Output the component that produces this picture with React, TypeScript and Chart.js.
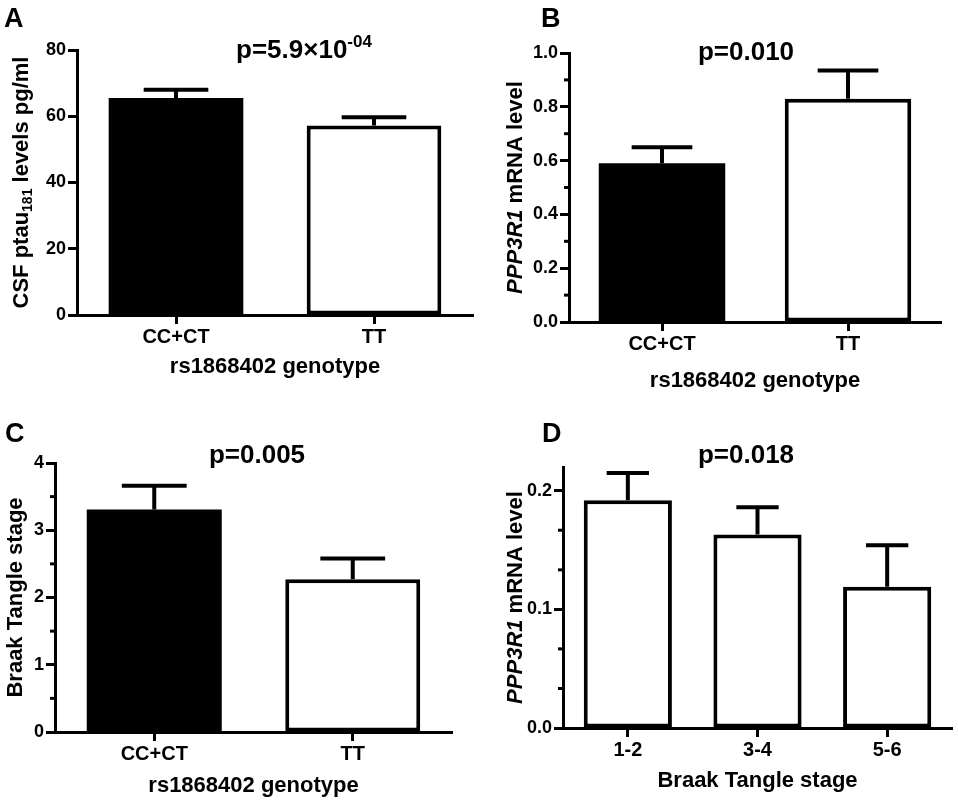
import React, { useEffect, useRef } from 'react';
import { Chart, registerables } from 'chart.js';

Chart.register(...registerables);

// values (mean and SEM, error bars drawn upward only)
const genotypes = ['CC+CT', 'TT'];
const braakStages = ['1-2', '3-4', '5-6'];

const ptauMean = [65.5, 57.2];
const ptauSem = [2.5, 2.5];

const mrnaGenoMean = [0.59, 0.83];
const mrnaGenoSem = [0.06, 0.105];

const braakMean = [3.31, 2.27];
const braakSem = [0.35, 0.31];

const mrnaStageMean = [0.192, 0.163, 0.119];
const mrnaStageSem = [0.023, 0.023, 0.035];

// axis ticks (major carry labels, minor are short marks only)
const ptauTicks = [0, 20, 40, 60, 80];
const mrnaGenoTicks = [0, 0.2, 0.4, 0.6, 0.8, 1.0];
const mrnaGenoMinor = [0.1, 0.3, 0.5, 0.7, 0.9];
const braakTicks = [0, 1, 2, 3, 4];
const braakMinor = [0.5, 1.5, 2.5, 3.5];
const mrnaStageTicks = [0, 0.1, 0.2];
const mrnaStageMinor = [0.0333, 0.0667, 0.1333, 0.1667];

const FONT = '"Liberation Sans", Arial, Helvetica, sans-serif';
const W = 479;
const H = 400;

interface Seg {
  text: string;
  italic?: boolean;
  shift?: 'sub' | 'sup';
}

interface PanelSpec {
  letter: string;
  letterX: number;
  letterY: number;
  title: Seg[];
  titleX: number;
  titleY: number;
  yTitle: Seg[];
  yTitleX: number;
  xTitle: string;
  xTitleY: number;
  labels: string[];
  mean: number[];
  sem: number[];
  fills: string[];
  yMax: number;
  ticks: number[];
  minor: number[];
  decimals: number;
  area: { left: number; right: number; top: number; bottom: number };
}

const segFont = (s: Seg, size: number) => {
  const px = s.shift ? Math.round(size * 0.64) : size;
  return `${s.italic ? 'italic ' : ''}bold ${px}px ${FONT}`;
};

// draws mixed-style text on one baseline, centred on x
function drawRich(ctx: CanvasRenderingContext2D, segs: Seg[], x: number, y: number, size: number) {
  let total = 0;
  const widths = segs.map((s) => {
    ctx.font = segFont(s, size);
    const w = ctx.measureText(s.text).width;
    total += w;
    return w;
  });
  let cx = x - total / 2;
  ctx.textAlign = 'left';
  ctx.textBaseline = 'alphabetic';
  segs.forEach((s, i) => {
    ctx.font = segFont(s, size);
    let dy = 0;
    if (s.shift === 'sub') dy = size * 0.2;
    if (s.shift === 'sup') dy = -size * 0.42;
    ctx.fillText(s.text, cx, y + dy);
    cx += widths[i];
  });
}

const panels: PanelSpec[] = [
  {
    letter: 'A', letterX: 4, letterY: 27,
    title: [{ text: 'p=5.9×10' }, { text: '-04', shift: 'sup' }], titleX: 304, titleY: 58,
    yTitle: [{ text: 'CSF ptau' }, { text: '181', shift: 'sub' }, { text: ' levels pg/ml' }], yTitleX: 28,
    xTitle: 'rs1868402 genotype', xTitleY: 373,
    labels: genotypes, mean: ptauMean, sem: ptauSem, fills: ['#000000', '#ffffff'],
    yMax: 80, ticks: ptauTicks, minor: [], decimals: 0,
    area: { left: 77, right: 473, top: 50, bottom: 315 },
  },
  {
    letter: 'B', letterX: 62, letterY: 27,
    title: [{ text: 'p=0.010' }], titleX: 267, titleY: 60,
    yTitle: [{ text: 'PPP3R1', italic: true }, { text: ' mRNA level' }], yTitleX: 43,
    xTitle: 'rs1868402 genotype', xTitleY: 387,
    labels: genotypes, mean: mrnaGenoMean, sem: mrnaGenoSem, fills: ['#000000', '#ffffff'],
    yMax: 1.0, ticks: mrnaGenoTicks, minor: mrnaGenoMinor, decimals: 1,
    area: { left: 90, right: 462, top: 53, bottom: 322 },
  },
  {
    letter: 'C', letterX: 5, letterY: 42,
    title: [{ text: 'p=0.005' }], titleX: 257, titleY: 63,
    yTitle: [{ text: 'Braak Tangle stage' }], yTitleX: 22,
    xTitle: 'rs1868402 genotype', xTitleY: 392,
    labels: genotypes, mean: braakMean, sem: braakSem, fills: ['#000000', '#ffffff'],
    yMax: 4, ticks: braakTicks, minor: braakMinor, decimals: 0,
    area: { left: 55, right: 452, top: 63, bottom: 332 },
  },
  {
    letter: 'D', letterX: 63, letterY: 42,
    title: [{ text: 'p=0.018' }], titleX: 267, titleY: 63,
    yTitle: [{ text: 'PPP3R1', italic: true }, { text: ' mRNA level' }], yTitleX: 43,
    xTitle: 'Braak Tangle stage', xTitleY: 387,
    labels: braakStages, mean: mrnaStageMean, sem: mrnaStageSem, fills: ['#ffffff', '#ffffff', '#ffffff'],
    yMax: 0.22, ticks: mrnaStageTicks, minor: mrnaStageMinor, decimals: 1,
    area: { left: 84, right: 473, top: 67, bottom: 328 },
  },
];

const Panel: React.FC<{ spec: PanelSpec }> = ({ spec }) => {
  const canvasRef = useRef<HTMLCanvasElement | null>(null);

  useEffect(() => {
    if (!canvasRef.current) return;
    const a = spec.area;
    const tickFont = { family: FONT, weight: 'bold' as const };

    const decorations = {
      id: 'decorations',
      afterDatasetsDraw(chart: Chart) {
        const ctx = chart.ctx;
        const y = chart.scales.y;
        const meta = chart.getDatasetMeta(0);
        ctx.save();
        ctx.strokeStyle = '#000';
        ctx.lineWidth = 4;
        ctx.lineCap = 'butt';
        meta.data.forEach((bar: any, i: number) => {
          const top = y.getPixelForValue(spec.mean[i]);
          const cap = y.getPixelForValue(spec.mean[i] + spec.sem[i]);
          const half = bar.width * 0.24;
          ctx.beginPath();
          ctx.moveTo(bar.x, top);
          ctx.lineTo(bar.x, cap);
          ctx.moveTo(bar.x - half, cap);
          ctx.lineTo(bar.x + half, cap);
          ctx.stroke();
        });
        // short minor ticks on the value axis
        ctx.lineWidth = 3;
        spec.minor.forEach((v) => {
          const py = y.getPixelForValue(v);
          ctx.beginPath();
          ctx.moveTo(chart.chartArea.left - 5, py);
          ctx.lineTo(chart.chartArea.left, py);
          ctx.stroke();
        });
        ctx.restore();
      },
      afterDraw(chart: Chart) {
        const ctx = chart.ctx;
        const area = chart.chartArea;
        ctx.save();
        ctx.fillStyle = '#000';
        ctx.textAlign = 'left';
        ctx.textBaseline = 'alphabetic';
        ctx.font = `bold 27px ${FONT}`;
        ctx.fillText(spec.letter, spec.letterX, spec.letterY);

        drawRich(ctx, spec.title, spec.titleX, spec.titleY, 26);
        drawRich(ctx, [{ text: spec.xTitle }], (area.left + area.right) / 2, spec.xTitleY, 22);

        ctx.translate(spec.yTitleX, (area.top + area.bottom) / 2);
        ctx.rotate(-Math.PI / 2);
        drawRich(ctx, spec.yTitle, 0, 0, 22);
        ctx.restore();
      },
    };

    const chart = new Chart(canvasRef.current, {
      type: 'bar',
      data: {
        labels: spec.labels,
        datasets: [
          {
            data: spec.mean,
            backgroundColor: spec.fills,
            borderColor: '#000000',
            // solid black bars need no outline (avoids a seam between fill and border)
            borderWidth: spec.fills.map((f) => (f === '#000000' ? 0 : 4)),
            borderSkipped: false,
            barPercentage: 0.68,
            categoryPercentage: 1,
          },
        ],
      },
      options: {
        responsive: false,
        animation: false,
        layout: { padding: { left: 0, top: a.top, right: W - a.right, bottom: 0 } },
        plugins: {
          legend: { display: false },
          tooltip: { enabled: false },
        },
        scales: {
          x: {
            offset: true,
            grid: { display: true, drawOnChartArea: false, offset: false, tickLength: 9, tickWidth: 3, tickColor: '#000' },
            border: { color: '#000', width: 3 },
            ticks: { color: '#000', font: { ...tickFont, size: 20 }, padding: 1, maxRotation: 0 },
            afterFit: (s: any) => {
              s.height = H - a.bottom;
            },
          },
          y: {
            min: 0,
            max: spec.yMax,
            grid: { drawOnChartArea: false, tickLength: 9, tickWidth: 3, tickColor: '#000' },
            border: { color: '#000', width: 3 },
            ticks: {
              color: '#000',
              font: { ...tickFont, size: 18 },
              padding: 2,
              callback: (v: any) => Number(v).toFixed(spec.decimals),
            },
            afterBuildTicks: (s: any) => {
              s.ticks = spec.ticks.map((value) => ({ value }));
            },
            afterFit: (s: any) => {
              s.width = a.left;
            },
          },
        },
      },
      plugins: [decorations],
    });

    return () => {
      chart.destroy();
    };
  }, [spec]);

  return <canvas ref={canvasRef} width={W} height={H} />;
};

const App: React.FC = () => {
  return (
    <div style={{ position: 'absolute', left: 0, top: 0, width: 958, height: 800, background: '#fff' }}>
      {panels.map((p, i) => (
        <div
          key={p.letter}
          style={{ position: 'absolute', left: (i % 2) * W, top: Math.floor(i / 2) * H, width: W, height: H }}
        >
          <Panel spec={p} />
        </div>
      ))}
    </div>
  );
};

export default App;
